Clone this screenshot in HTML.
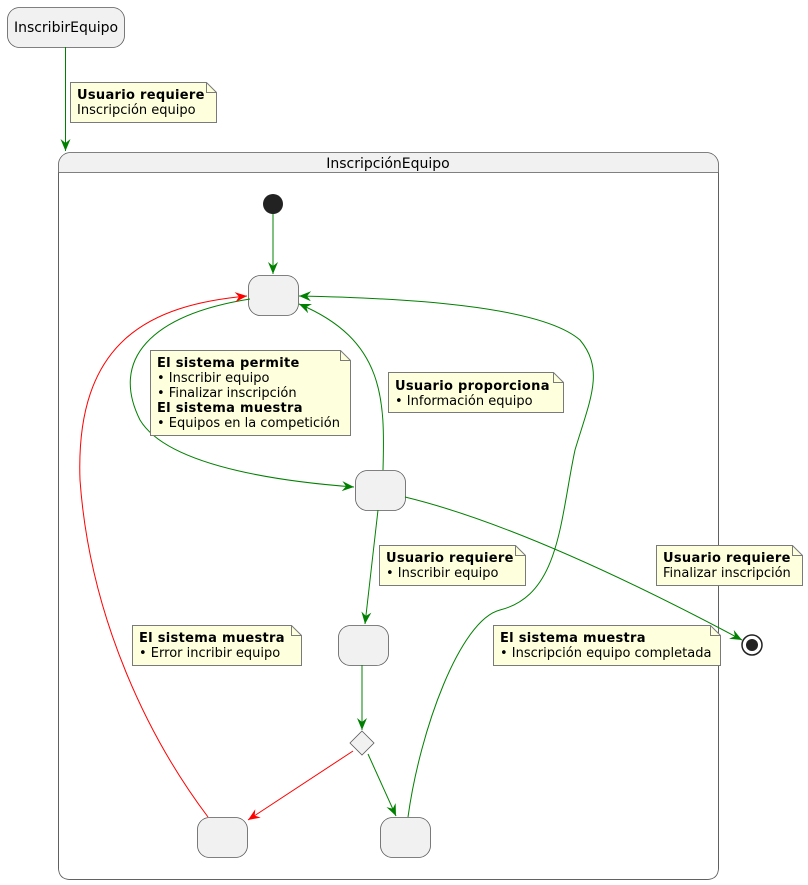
<!DOCTYPE html>
<html><head><meta charset="utf-8"><style>
html,body{margin:0;padding:0;background:#fff;}
svg{display:block;font-family:"DejaVu Sans","Liberation Sans",sans-serif;}
.n{fill:#FEFFDD;stroke:#7a7a7a;stroke-width:1;}
.s{fill:#F1F1F1;stroke:#5a5a5a;stroke-width:0.8;}
.t{font-size:13px;fill:#000;}
.b{font-weight:bold;letter-spacing:0.3px;}
.g{fill:none;stroke:#008000;stroke-width:1;}
.r{fill:none;stroke:#ff0000;stroke-width:1;}
</style></head><body>
<svg width="808" height="885" viewBox="0 0 808 885" xmlns="http://www.w3.org/2000/svg">
<defs>
<marker id="ag" viewBox="0 0 12 10" refX="12" refY="5" markerWidth="12" markerHeight="10" markerUnits="userSpaceOnUse" orient="auto"><path d="M0,0 L12,5 L0,10 L4,5 Z" fill="#008000"/></marker>
<marker id="ar" viewBox="0 0 12 10" refX="12" refY="5" markerWidth="12" markerHeight="10" markerUnits="userSpaceOnUse" orient="auto"><path d="M0,0 L12,5 L0,10 L4,5 Z" fill="#ff0000"/></marker>
</defs>

<rect class="s" x="7.5" y="7.5" width="117" height="40" rx="12"/>
<text class="t" x="66" y="32" text-anchor="middle" style="font-size:14px">InscribirEquipo</text>
<path class="g" d="M65.5,47 L65.5,151" marker-end="url(#ag)"/>

<path class="n" d="M70.5,82.5 H206.5 L216.5,92.5 V122.5 H70.5 Z"/><path d="M206.5,82.5 V92.5 H216.5" fill="none" stroke="#7a7a7a"/>
<text class="t b" x="77" y="99">Usuario requiere</text>
<text class="t" x="77" y="114">Inscripción equipo</text>

<rect class="s" x="58.5" y="152.5" width="660" height="727" rx="12"/>
<line x1="58.5" y1="172.5" x2="718.5" y2="172.5" stroke="#5a5a5a" stroke-width="0.8"/>
<text class="t" x="388" y="168" text-anchor="middle" style="font-size:14px">InscripciónEquipo</text>
<rect x="59" y="173" width="659" height="706" fill="#fff"/>
<path d="M58.5,173 V867.5 Q58.5,879.5 70.5,879.5 H706.5 Q718.5,879.5 718.5,867.5 V173" fill="none" stroke="#5a5a5a" stroke-width="0.8"/>

<circle cx="273" cy="204" r="10" fill="#222"/>
<path class="g" d="M273,214 L273,274" marker-end="url(#ag)"/>

<rect class="s" x="248.5" y="275.5" width="50" height="40" rx="12"/>
<rect class="s" x="355.5" y="470.5" width="50" height="40" rx="12"/>
<rect class="s" x="338.5" y="625.5" width="50" height="40" rx="12"/>
<rect class="s" x="197.5" y="817.5" width="50" height="40" rx="12"/>
<rect class="s" x="380.5" y="817.5" width="50" height="40" rx="12"/>
<path class="s" d="M362,731 L374,743 L362,755 L350,743 Z"/>

<path class="g" d="M250,299 C150,315 110,360 140,420 C170,470 300,483 354,487" marker-end="url(#ag)"/>
<path class="g" d="M383,470 C385,400 385,340 299,304" marker-end="url(#ag)"/>
<path class="g" d="M408,817 C420,730 460,620 500,610 C560,595 560,520 575,450 C590,400 605,370 580,340 C540,305 400,298 299,296" marker-end="url(#ag)"/>
<path class="r" d="M208,817 C150,740 90,620 80,480 C75,340 150,305 247,296" marker-end="url(#ar)"/>
<path class="g" d="M405,497 C500,520 620,575 742,640" marker-end="url(#ag)"/>
<path class="g" d="M378,510 L365,624" marker-end="url(#ag)"/>
<path class="g" d="M362,665 L362,730" marker-end="url(#ag)"/>
<path class="r" d="M353,751 L248,820" marker-end="url(#ar)"/>
<path class="g" d="M368,754 L396,816" marker-end="url(#ag)"/>

<circle cx="752" cy="645" r="10" fill="#fff" stroke="#222" stroke-width="1.5"/>
<circle cx="752" cy="645" r="6" fill="#222"/>

<path class="n" d="M150.5,350.5 H340.5 L350.5,360.5 V435.5 H150.5 Z"/><path d="M340.5,350.5 V360.5 H350.5" fill="none" stroke="#7a7a7a"/>
<text class="t b" x="157" y="367">El sistema permite</text>
<text class="t" x="157" y="382">• Inscribir equipo</text>
<text class="t" x="157" y="397">• Finalizar inscripción</text>
<text class="t b" x="157" y="412">El sistema muestra</text>
<text class="t" x="157" y="427">• Equipos en la competición</text>

<path class="n" d="M388.5,372.5 H553.5 L563.5,382.5 V412.5 H388.5 Z"/><path d="M553.5,372.5 V382.5 H563.5" fill="none" stroke="#7a7a7a"/>
<text class="t b" x="395" y="390">Usuario proporciona</text>
<text class="t" x="395" y="405">• Información equipo</text>

<path class="n" d="M379.5,545.5 H515.5 L525.5,555.5 V585.5 H379.5 Z"/><path d="M515.5,545.5 V555.5 H525.5" fill="none" stroke="#7a7a7a"/>
<text class="t b" x="386" y="562">Usuario requiere</text>
<text class="t" x="386" y="577">• Inscribir equipo</text>

<path class="n" d="M656.5,545.5 H792.5 L802.5,555.5 V585.5 H656.5 Z"/><path d="M792.5,545.5 V555.5 H802.5" fill="none" stroke="#7a7a7a"/>
<text class="t b" x="663" y="562">Usuario requiere</text>
<text class="t" x="663" y="577">Finalizar inscripción</text>

<path class="n" d="M132.5,625.5 H291.5 L301.5,635.5 V665.5 H132.5 Z"/><path d="M291.5,625.5 V635.5 H301.5" fill="none" stroke="#7a7a7a"/>
<text class="t b" x="139" y="642">El sistema muestra</text>
<text class="t" x="139" y="657">• Error incribir equipo</text>

<path class="n" d="M493.5,625.5 H710.5 L720.5,635.5 V665.5 H493.5 Z"/><path d="M710.5,625.5 V635.5 H720.5" fill="none" stroke="#7a7a7a"/>
<text class="t b" x="500" y="642">El sistema muestra</text>
<text class="t" x="500" y="657">• Inscripción equipo completada</text>
</svg>
</body></html>
